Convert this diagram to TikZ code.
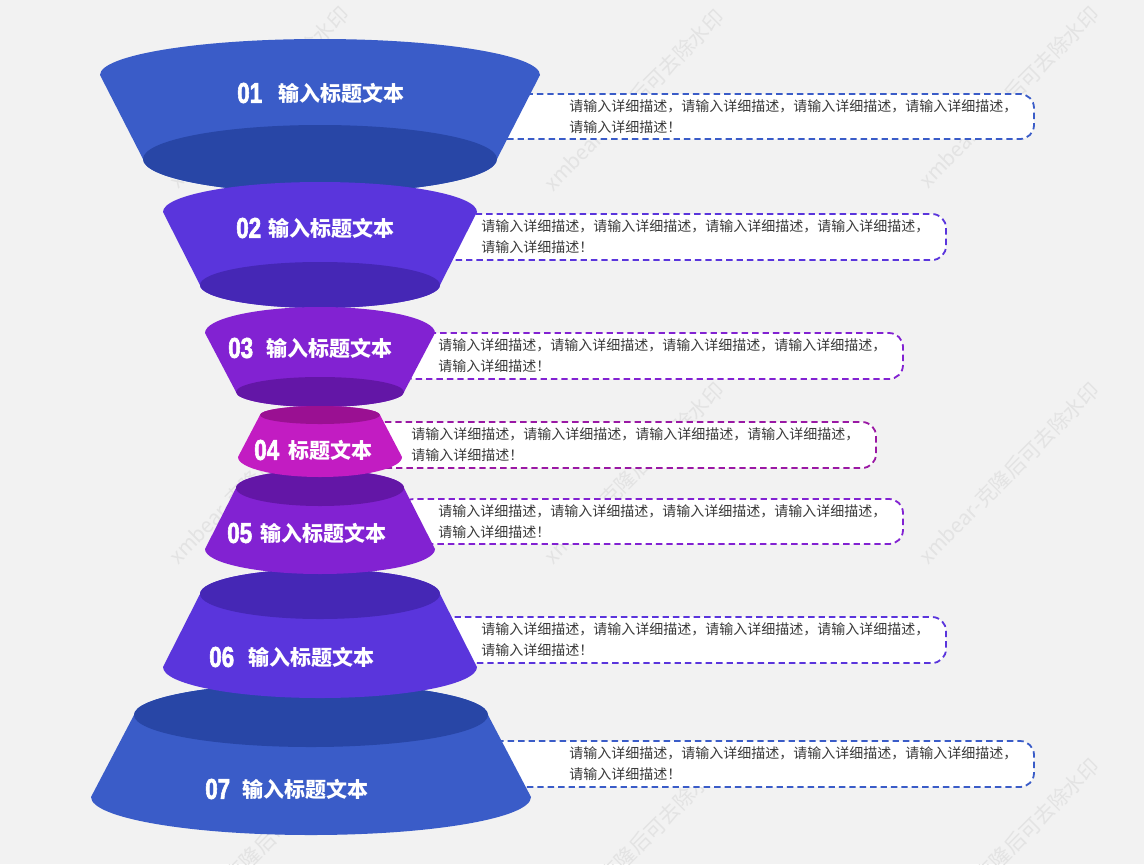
\documentclass[tikz,border=0pt]{standalone}
\usepackage{fontspec}
\usepackage{graphicx}
\newfontfamily\cjk{Noto Sans CJK SC}
\newfontfamily\numfont[BoldFeatures={FakeBold=2.5}]{Liberation Sans}
\definecolor{bg}{HTML}{F2F2F2}
\definecolor{blueA}{HTML}{3A5CC8}
\definecolor{blueD}{HTML}{2846A6}
\definecolor{indA}{HTML}{5A35DC}
\definecolor{indD}{HTML}{4527B5}
\definecolor{purA}{HTML}{8222D2}
\definecolor{purD}{HTML}{6316A6}
\definecolor{magA}{HTML}{C21CC2}
\definecolor{magD}{HTML}{9A1092}
\definecolor{magB}{HTML}{9A18A4}
\definecolor{txt}{HTML}{3A3A3A}
\definecolor{wm}{HTML}{E3E3E3}
% wide top, narrow bottom: dark ellipse at bottom
\newcommand\tierWide[9]{%
  \fill[#8] (#1-#3,#2) arc[start angle=180,end angle=0,x radius=#3*0.75pt,y radius=#4*0.75pt]
    -- (#1+#6,#5) arc[start angle=0,end angle=-180,x radius=#6*0.75pt,y radius=#7*0.75pt] -- cycle;
  \fill[#9] (#1,#5) ellipse[x radius=#6*0.75pt,y radius=#7*0.75pt];
}
% narrow top, wide bottom: dark ellipse at top
\newcommand\tierNarrow[9]{%
  \fill[#8] (#1-#3,#2) arc[start angle=180,end angle=0,x radius=#3*0.75pt,y radius=#4*0.75pt]
    -- (#1+#6,#5) arc[start angle=0,end angle=-180,x radius=#6*0.75pt,y radius=#7*0.75pt] -- cycle;
  \fill[#9] (#1,#2) ellipse[x radius=#3*0.75pt,y radius=#4*0.75pt];
}
\newcommand\descbox[7]{%
  \draw[dashbox, draw=#6] (#2,#3) rectangle (#4,#5);
  \node[desc] (#1) at (#7,{(#3+#5)/2}) {请输入详细描述，请输入详细描述，请输入详细描述，请输入详细描述，\\请输入详细描述！};
}
\begin{document}
\begin{tikzpicture}[x=0.75pt,y=-0.75pt,
  dashbox/.style={fill=white, line width=1.35pt, dash pattern=on 4.8pt off 3pt, rounded corners=10.5pt},
  desc/.style={anchor=west, inner sep=0pt, align=left, text=txt, font=\cjk\fontsize{10.5pt}{15.75pt}\selectfont},
  numlbl/.style={anchor=west, inner sep=0pt, text=white, font=\numfont\bfseries\fontsize{21.5pt}{21.5pt}\selectfont},
  titlelbl/.style={anchor=west, inner sep=0pt, text=white, font=\cjk\bfseries\fontsize{15.75pt}{18pt}\selectfont},
  wmark/.style={rotate=45, text=wm, inner sep=0pt, font=\cjk\fontsize{15.5pt}{16pt}\selectfont}]
\fill[bg] (0,0) rectangle (1144,864);
\useasboundingbox (0,0) rectangle (1144,864);
% watermarks
\foreach \wx/\wy [count=\i] in {259/97,634/100,1009/97,259/473,634/473,1009/473,259/849,634/849,1009/849}{
  \node[wmark] (wm\i) at (\wx,\wy) {xmbear-克隆后可去除水印};
}
% description boxes
\descbox{d1}{480}{94}{1034}{139}{blueA}{569}
\descbox{d2}{440}{214}{946}{260}{indA}{481}
\descbox{d3}{400}{333}{903}{379}{purA}{438}
\descbox{d4}{370}{422}{876}{468}{magB}{411}
\descbox{d5}{400}{499}{903}{544}{purA}{438}
\descbox{d6}{430}{617}{946}{663}{indA}{481}
\descbox{d7}{480}{741}{1034}{787}{blueA}{569}
% funnel tiers
\tierWide{320}{75}{220}{36}{159}{177}{34}{blueA}{blueD}
\tierWide{320}{212}{157}{30}{285}{120}{23}{indA}{indD}
\tierWide{320}{333}{115}{26}{392}{84}{15}{purA}{purD}
\tierNarrow{311}{715}{177}{32}{797}{220}{38}{blueA}{blueD}
\tierNarrow{320}{594}{120}{25}{667}{157}{31}{indA}{indD}
\tierNarrow{320}{488}{84}{18}{549}{115}{25}{purA}{purD}
\tierNarrow{320}{415}{60}{9}{457}{82}{20}{magA}{magD}
% labels
\node[numlbl] (n1) at (237,93) {\scalebox{0.78}[1]{01}};
\node[titlelbl] (t1) at (278,93) {输入标题文本};
\node[numlbl] (n2) at (236,228) {\scalebox{0.78}[1]{02}};
\node[titlelbl] (t2) at (268,228) {输入标题文本};
\node[numlbl] (n3) at (228,348) {\scalebox{0.78}[1]{03}};
\node[titlelbl] (t3) at (266,348) {输入标题文本};
\node[numlbl] (n4) at (254,450) {\scalebox{0.78}[1]{04}};
\node[titlelbl] (t4) at (288,450) {标题文本};
\node[numlbl] (n5) at (227,533) {\scalebox{0.78}[1]{05}};
\node[titlelbl] (t5) at (260,533) {输入标题文本};
\node[numlbl] (n6) at (209,657) {\scalebox{0.78}[1]{06}};
\node[titlelbl] (t6) at (248,657) {输入标题文本};
\node[numlbl] (n7) at (205,789) {\scalebox{0.78}[1]{07}};
\node[titlelbl] (t7) at (242,789) {输入标题文本};
\end{tikzpicture}
\end{document}
